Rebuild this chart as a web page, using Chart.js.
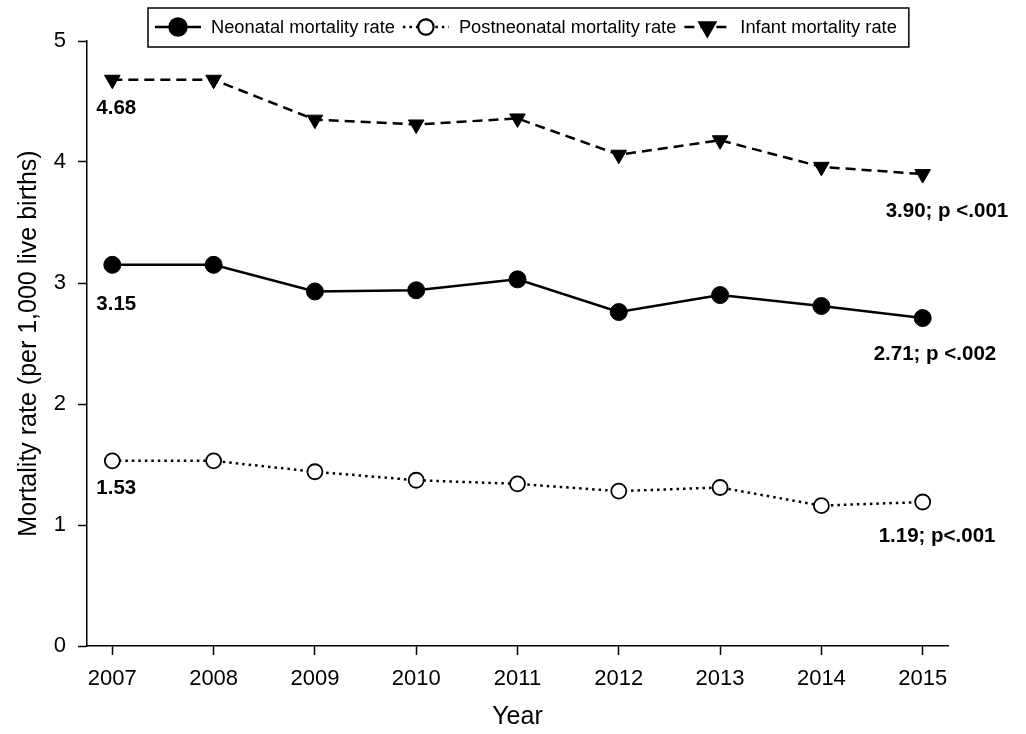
<!DOCTYPE html>
<html>
<head>
<meta charset="utf-8">
<script src="https://cdn.jsdelivr.net/npm/chart.js@4/dist/chart.umd.min.js"></script>
<style>
    html, body { margin: 0; padding: 0; background: #fff; }
    #wrap { width: 1026px; height: 734px; position: relative; }
</style>
</head>
<body>
<div id="wrap"><canvas id="mortality-chart"></canvas></div>
<script>
// Values (per 1,000 live births).
var years = [2007, 2008, 2009, 2010, 2011, 2012, 2013, 2014, 2015];
var neonatal = [3.15, 3.15, 2.93, 2.94, 3.03, 2.76, 2.90, 2.81, 2.71];
var postneonatal = [1.53, 1.53, 1.44, 1.37, 1.34, 1.28, 1.31, 1.16, 1.19];
var infant = [4.68, 4.68, 4.35, 4.31, 4.36, 4.06, 4.18, 3.96, 3.90];
var yTicks = [0, 1, 2, 3, 4, 5];

var seriesNames = ['Neonatal mortality rate', 'Postneonatal mortality rate', 'Infant mortality rate'];
var startLabels = ['3.15', '1.53', '4.68'];
var endLabels = ['2.71; p <.002', '1.19; p<.001', '3.90; p <.001'];

var FONT = 'Arial, "Liberation Sans", sans-serif';

function points(values) {
    return years.map(function (yr, i) {
        return {x: yr, y: values[i]};
    });
}

/**
 * Boxed legend drawn at the top, with a line sample and marker for each series.
 */
var boxedLegend = {
    id: 'boxedLegend',
    afterDraw: function (chart) {
        var ctx = chart.ctx;
        var sets = chart.data.datasets;
        var sample = 46, gapText = 10, gapItem = 8;
        ctx.save();
        ctx.font = '18.3px ' + FONT;
        var left = 148, cy = 27;
        var x = left + 7;
        sets.forEach(function (ds) {
            ctx.beginPath();
            ctx.setLineDash(ds.borderDash || []);
            ctx.lineWidth = ds.borderWidth;
            ctx.strokeStyle = '#000';
            ctx.moveTo(x, cy);
            ctx.lineTo(x + sample, cy);
            ctx.stroke();
            ctx.setLineDash([]);
            Chart.helpers.drawPoint(ctx, {
                pointStyle: ds.pointStyle,
                radius: ds.pointRadius,
                rotation: ds.pointRotation || 0,
                borderWidth: ds.pointBorderWidth
            }, x + sample / 2, cy);
            ctx.fillStyle = ds.pointBackgroundColor;
            ctx.lineWidth = ds.pointBorderWidth;
            ctx.fill();
            ctx.stroke();
            x += sample + gapText;
            ctx.fillStyle = '#000';
            ctx.textBaseline = 'middle';
            ctx.textAlign = 'left';
            ctx.fillText(ds.label, x, cy + 1);
            x += ctx.measureText(ds.label).width + gapItem;
        });
        ctx.lineWidth = 1.5;
        ctx.strokeStyle = '#000';
        ctx.strokeRect(left, 8, x - gapItem + 12 - left, 39);
        ctx.restore();
    }
};

/**
 * Bold value labels at the first and last year of each series.
 */
var valueLabels = {
    id: 'valueLabels',
    afterDatasetsDraw: function (chart) {
        var ctx = chart.ctx;
        var xs = chart.scales.x, ys = chart.scales.y;
        var startDy = [39, 27, 29];
        var endDx = [-49, -44, -37];
        var endDy = [36, 34, 37];
        ctx.save();
        ctx.font = 'bold 20.5px ' + FONT;
        ctx.fillStyle = '#000';
        ctx.textBaseline = 'middle';
        ctx.textAlign = 'left';
        chart.data.datasets.forEach(function (ds, i) {
            var first = ds.data[0], last = ds.data[ds.data.length - 1];
            ctx.fillText(startLabels[i], xs.getPixelForValue(first.x) - 16, ys.getPixelForValue(first.y) + startDy[i]);
            ctx.fillText(endLabels[i], xs.getPixelForValue(last.x) + endDx[i], ys.getPixelForValue(last.y) + endDy[i]);
        });
        ctx.restore();
    }
};

var ctx = document.getElementById('mortality-chart');
var config = {
    type: 'line',
    data: {
        datasets: [{
            label: seriesNames[0],
            data: points(neonatal),
            borderColor: '#000',
            borderWidth: 2.5,
            pointStyle: 'circle',
            pointRadius: 8.5,
            pointBackgroundColor: '#000',
            pointBorderColor: '#000',
            pointBorderWidth: 1
        },
        {
            label: seriesNames[1],
            data: points(postneonatal),
            borderColor: '#000',
            borderWidth: 2.5,
            borderDash: [2.5, 4],
            pointStyle: 'circle',
            pointRadius: 7.5,
            pointBackgroundColor: '#fff',
            pointBorderColor: '#000',
            pointBorderWidth: 1.8
        },
        {
            label: seriesNames[2],
            data: points(infant),
            borderColor: '#000',
            borderWidth: 2.5,
            borderDash: [10, 6],
            pointStyle: 'triangle',
            pointRotation: 180,
            pointRadius: 9,
            pointBackgroundColor: '#000',
            pointBorderColor: '#000',
            pointBorderWidth: 1
        }]
    },
    options: {
        responsive: true,
        maintainAspectRatio: false,
        animation: false,
        layout: {
            padding: {top: 41, right: 78, bottom: 0, left: 0}
        },
        plugins: {
            legend: {display: false},
            tooltip: {enabled: false}
        },
        scales: {
            x: {
                type: 'linear',
                min: 2006.75,
                max: 2015.25,
                afterFit: function (scale) {
                    scale.height = 88;
                },
                afterBuildTicks: function (scale) {
                    scale.ticks = years.map(function (v) {
                        return {value: v};
                    });
                },
                border: {color: '#000', width: 1.5},
                grid: {drawOnChartArea: false, tickLength: 9, tickColor: '#000', tickWidth: 1.5},
                ticks: {
                    color: '#000',
                    font: {family: FONT, size: 22},
                    padding: 11,
                    maxRotation: 0,
                    callback: function (v) {
                        return String(v);
                    }
                },
                title: {
                    display: true,
                    text: 'Year',
                    color: '#000',
                    font: {family: FONT, size: 25},
                    padding: {top: 0, bottom: 2}
                }
            },
            y: {
                min: 0,
                max: 5,
                afterFit: function (scale) {
                    scale.width = 87;
                },
                afterBuildTicks: function (scale) {
                    scale.ticks = yTicks.map(function (v) {
                        return {value: v};
                    });
                },
                border: {color: '#000', width: 1.5},
                grid: {drawOnChartArea: false, tickLength: 9, tickColor: '#000', tickWidth: 1.5},
                ticks: {
                    color: '#000',
                    font: {family: FONT, size: 22},
                    padding: 12
                },
                title: {
                    display: true,
                    text: 'Mortality rate (per 1,000 live births)',
                    color: '#000',
                    font: {family: FONT, size: 25},
                    padding: {top: 14, bottom: 0}
                }
            }
        }
    },
    plugins: [boxedLegend, valueLabels]
};
var mortalityChart = new Chart(ctx, config);
</script>
</body>
</html>
